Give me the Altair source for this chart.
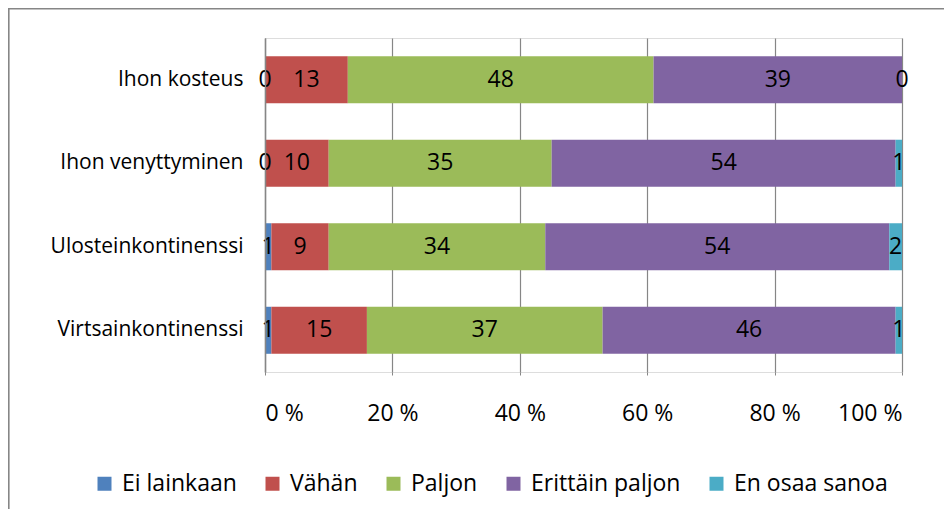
import altair as alt
import pandas as pd

categories = ["Ihon kosteus", "Ihon venyttyminen", "Ulosteinkontinenssi", "Virtsainkontinenssi"]
series = ["Ei lainkaan", "Vähän", "Paljon", "Erittäin paljon", "En osaa sanoa"]
colors = ["#4F81BD", "#C0504D", "#9BBB59", "#8064A2", "#4BACC6"]
values = {
    "Ei lainkaan":     [0, 0, 1, 1],
    "Vähän":           [13, 10, 9, 15],
    "Paljon":          [48, 35, 34, 37],
    "Erittäin paljon": [39, 54, 54, 46],
    "En osaa sanoa":   [0, 1, 2, 1],
}
x_ticks = [0, 0.2, 0.4, 0.6, 0.8, 1.0]

rows = []
for si, s in enumerate(series):
    for ci, c in enumerate(categories):
        rows.append({"cat": c, "series": s, "order": si, "value": values[s][ci]})
df = pd.DataFrame(rows)

FONT = "Open Sans"

base = alt.Chart(df).transform_stack(
    stack="value", groupby=["cat"], as_=["v0", "v1"],
    sort=[alt.SortField("order", order="ascending")], offset="normalize"
).transform_calculate(mid="(datum.v0 + datum.v1) / 2")

yenc = alt.Y("cat:N", sort=categories, title=None,
             scale=alt.Scale(paddingInner=0.437, paddingOuter=0.218),
             axis=alt.Axis(ticks=False, domainColor="#868686", domainWidth=1.5,
                           labelPadding=22, labelFontSize=21, labelFont=FONT,
                           labelLimit=400, labelColor="#000000", zindex=1))

bars = base.mark_bar().encode(
    x=alt.X("v0:Q", scale=alt.Scale(domain=[0, 1], nice=False), title=None,
            axis=alt.Axis(values=x_ticks, labelExpr="round(datum.value*100) + ' %'",
                          grid=True, gridColor="#868686", gridWidth=1.2,
                          tickColor="#868686", tickSize=3, domain=False,
                          labelPadding=27, labelFontSize=23, labelFont=FONT,
                          labelColor="#000000")),
    x2="v1:Q",
    y=yenc,
    color=alt.Color("series:N", sort=series,
                    scale=alt.Scale(domain=series, range=colors),
                    legend=alt.Legend(title=None, orient="none", direction="horizontal",
                                      legendX=-172, legendY=434, padding=0,
                                      symbolType="square", symbolSize=196,
                                      symbolStrokeWidth=0, symbolOpacity=1,
                                      labelFontSize=23, labelFont=FONT, labelColor="#000000",
                                      labelLimit=400,
                                      columnPadding=24, symbolOffset=0, labelOffset=6)),
    order=alt.Order("order:Q"),
)

labels = base.mark_text(fontSize=23, font=FONT, color="#000000").encode(
    x=alt.X("mid:Q"),
    y=alt.Y("cat:N", sort=categories),
    text=alt.Text("value:Q"),
)

border = alt.Chart(pd.DataFrame({"a": [0]})).mark_rect(
    fill=None, stroke="#868686", strokeWidth=1.6
).encode(x=alt.value(-256.2), x2=alt.value(760), y=alt.value(-29.3), y2=alt.value(600))

chart = alt.layer(bars, labels, border).properties(
    width=637, height=334,
    autosize=alt.AutoSizeParams(type="none"),
    padding={"left": 257, "top": 30, "right": 42, "bottom": 137},
).configure_view(stroke=None).configure(background="#ffffff")

chart.save("out.html", embed_options={"renderer": "svg", "actions": False})
